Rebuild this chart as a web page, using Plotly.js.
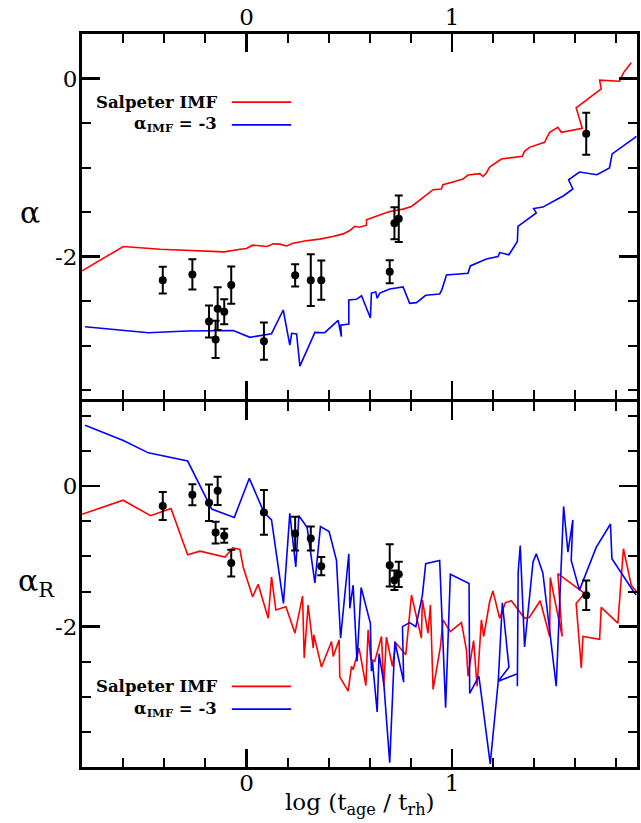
<!DOCTYPE html>
<html>
<head>
<meta charset="utf-8">
<script src="https://cdn.plot.ly/plotly-3.0.1.min.js"></script>
<style>html,body{margin:0;padding:0;background:#fff}#chart{width:641px;height:823px}</style>
</head>
<body>
<div id="chart"></div>
<script>
// ---- observed clusters (shared x) ----
const clusterLogAge = [-0.407,-0.263,-0.182,-0.150,-0.140,-0.108,-0.074,0.085,0.237,0.313,0.364,0.697,0.720,0.741,1.653];
const clusterAlpha = [-2.265,-2.20,-2.73,-2.93,-2.585,-2.62,-2.32,-2.95,-2.21,-2.265,-2.265,-2.17,-1.625,-1.575,-0.62];
const clusterAlphaErr = [0.15,0.17,0.18,0.21,0.24,0.14,0.21,0.21,0.125,0.29,0.22,0.13,0.18,0.26,0.235];
const clusterAlphaR = [-0.283,-0.123,-0.236,-0.66,-0.066,-0.707,-1.095,-0.373,-0.675,-0.745,-1.14,-1.127,-1.34,-1.255,-1.552];
const clusterAlphaRErr = [0.2,0.15,0.26,0.155,0.2,0.1,0.19,0.32,0.24,0.17,0.13,0.3,0.14,0.18,0.21];

// ---- model: alpha, Salpeter IMF ----
const salpX = [-0.80,-0.599,-0.42,-0.26,-0.108,-0.03,0.0,0.03,0.066,0.10,0.13,0.163,0.195,0.227,0.29,0.357,0.42,0.47,0.503,0.527,0.55,0.584,0.584,0.624,0.665,0.697,0.762,0.803,0.851,0.892,0.908,0.948,0.956,1.013,1.053,1.078,1.135,1.151,1.167,1.183,1.199,1.224,1.24,1.342,1.353,1.377,1.45,1.475,1.515,1.532,1.634,1.604,1.726,1.718,1.815,1.834,1.872];
const salpA = [-2.16,-1.887,-1.917,-1.93,-1.947,-1.917,-1.91,-1.872,-1.876,-1.887,-1.857,-1.86,-1.88,-1.85,-1.823,-1.804,-1.775,-1.745,-1.707,-1.66,-1.67,-1.647,-1.587,-1.557,-1.52,-1.493,-1.467,-1.437,-1.354,-1.287,-1.249,-1.241,-1.193,-1.156,-1.129,-1.084,-1.069,-1.10,-1.061,-0.994,-0.968,-0.93,-0.904,-0.874,-0.818,-0.773,-0.716,-0.604,-0.548,-0.604,-0.559,-0.33,-0.116,-0.019,-0.03,0.064,0.177];

// ---- model: alpha, IMF slope -3 ----
const steepX = [-0.785,-0.477,-0.29,-0.064,0.017,0.122,0.179,0.211,0.22,0.244,0.26,0.333,0.381,0.446,0.462,0.459,0.498,0.498,0.535,0.56,0.603,0.608,0.629,0.636,0.649,0.697,0.762,0.794,0.827,0.872,0.94,0.951,0.973,1.078,1.089,1.167,1.224,1.232,1.277,1.318,1.321,1.41,1.397,1.442,1.507,1.543,1.588,1.567,1.62,1.705,1.766,1.779,1.888,1.897];
const steepA = [-2.788,-2.855,-2.836,-2.83,-2.907,-2.866,-2.60,-2.994,-2.862,-2.87,-3.23,-2.851,-2.855,-2.716,-2.90,-2.77,-2.757,-2.487,-2.48,-2.44,-2.69,-2.41,-2.397,-2.468,-2.41,-2.364,-2.34,-2.525,-2.517,-2.435,-2.42,-2.371,-2.206,-2.187,-2.105,-2.026,-2.0,-1.955,-1.98,-1.83,-1.66,-1.51,-1.46,-1.444,-1.362,-1.317,-1.241,-1.137,-1.05,-1.08,-1.005,-0.847,-0.667,-0.65];

// ---- model: alpha_R, Salpeter IMF ----
const salpRX = [-0.80,-0.60,-0.466,-0.367,-0.286,-0.226,-0.104,-0.067,-0.032,-0.016,0.030,0.057,0.106,0.122,0.143,0.192,0.236,0.273,0.281,0.300,0.325,0.328,0.365,0.414,0.422,0.451,0.454,0.495,0.511,0.519,0.548,0.581,0.592,0.605,0.624,0.657,0.668,0.681,0.710,0.727,0.775,0.803,0.851,0.856,0.883,0.895,0.908,0.944,0.956,0.992,1.046,1.07,1.078,1.105,1.122,1.143,1.154,1.183,1.199,1.215,1.232,1.26,1.289,1.353,1.377,1.429,1.475,1.478,1.536,1.515,1.645,1.604,1.629,1.637,1.718,1.726,1.807,1.834,1.872,1.897];
const salpR = [-0.40,-0.20,-0.42,-0.317,-0.976,-0.925,-1.01,-0.877,-0.90,-1.151,-1.576,-1.396,-1.881,-1.293,-1.764,-1.717,-2.093,-1.566,-2.447,-1.693,-2.306,-2.117,-2.575,-2.212,-2.424,-2.188,-2.716,-2.919,-2.566,-2.612,-2.306,-2.84,-2.047,-2.47,-2.495,-2.141,-2.849,-2.15,-2.566,-2.235,-2.40,-1.552,-2.164,-1.62,-2.093,-1.693,-2.895,-2.283,-1.905,-2.071,-1.943,-2.33,-2.707,-2.2,-2.849,-1.905,-2.141,-1.646,-1.491,-1.68,-1.881,-1.66,-1.632,-1.881,-1.867,-1.632,-2.141,-1.301,-2.141,-1.245,-1.528,-1.67,-2.59,-2.14,-2.18,-1.726,-1.95,-0.891,-1.41,-1.50];

// ---- model: alpha_R, IMF slope -3 ----
const steepRX = [-0.785,-0.599,-0.477,-0.286,-0.169,-0.059,0.014,0.085,0.122,0.18,0.211,0.24,0.255,0.295,0.333,0.36,0.402,0.438,0.458,0.498,0.503,0.519,0.538,0.558,0.603,0.608,0.613,0.636,0.645,0.668,0.697,0.722,0.765,0.759,0.794,0.824,0.856,0.872,0.94,0.948,0.969,0.992,1.083,1.086,1.131,1.186,1.225,1.245,1.277,1.225,1.318,1.318,1.322,1.332,1.353,1.394,1.41,1.442,1.507,1.543,1.564,1.588,1.58,1.62,1.702,1.771,1.778,1.888,1.897];
const steepR = [0.867,0.65,0.475,0.358,-0.325,-0.444,0.113,-0.373,-0.48,-1.67,-0.387,-1.15,-0.42,-0.585,-1.377,-0.576,-0.646,-1.057,-2.164,-0.962,-1.74,-1.41,-2.495,-1.443,-1.952,-2.636,-2.495,-3.216,-2.386,-2.8,-3.94,-2.212,-2.792,-2.0,-1.943,-2.0,-1.552,-1.103,-1.057,-1.575,-3.154,-1.255,-1.386,-2.952,-2.707,-3.956,-2.778,-1.66,-2.58,-2.778,-2.673,-2.849,-1.222,-0.844,-2.291,-1.081,-0.962,-1.236,-2.849,-0.288,-0.939,-0.481,-1.057,-1.48,-0.868,-0.538,-1.033,-1.52,-1.55];

// ---- tick labels / tick positions ----
const yTickVals = [-2, 0];
const yTickText = ['-2', '0'];
const xTickVals = [0, 1];
const xTickText = ['0', '1'];
const xMinorVals = [-0.6,-0.4,-0.2,0.2,0.4,0.6,0.8,1.2,1.4,1.6,1.8];
const yTopMinorVals = [-3.5,-3,-2.5,-1.5,-1,-0.5];
const yBotMinorVals = [-3.5,-3,-2.5,-1.5,-1,-0.5,0.5,1];

const X_RANGE = [-0.8, 1.9];
const Y_TOP_RANGE = [-3.6, 0.5];
const Y_BOT_RANGE = [-4, 1.2];
const TOP_DOM = [0.502, 1];
const BOT_DOM = [0, 0.498];

const FONT = 'DejaVu Serif, Liberation Serif, serif';
const RED = '#ff0000', BLUE = '#0000ff';

const lineTrace = (x, y, color, xa, ya) => ({
  x, y, xaxis: xa, yaxis: ya, type: 'scatter', mode: 'lines',
  line: {color, width: 1.6}, hoverinfo: 'skip', showlegend: false
});
const dataTrace = (y, err, xa, ya) => ({
  x: clusterLogAge, y, xaxis: xa, yaxis: ya, type: 'scatter', mode: 'markers',
  marker: {color: 'black', size: 8},
  error_y: {type: 'data', array: err, visible: true, color: 'black', thickness: 2, width: 4},
  showlegend: false
});
// invisible helper traces so the minor-tick axes get their own (transparent) subplots
const ghost = (xa, ya) => ({x: [null], y: [null], xaxis: xa, yaxis: ya, type: 'scatter', mode: 'markers', showlegend: false, hoverinfo: 'skip'});

const traces = [
  lineTrace(salpX, salpA, RED, 'x2', 'y2'),
  lineTrace(steepX, steepA, BLUE, 'x2', 'y2'),
  dataTrace(clusterAlpha, clusterAlphaErr, 'x2', 'y2'),
  lineTrace(salpRX, salpR, RED, 'x', 'y'),
  lineTrace(steepRX, steepR, BLUE, 'x', 'y'),
  dataTrace(clusterAlphaR, clusterAlphaRErr, 'x', 'y'),
  ghost('x3', 'y3'),
  ghost('x4', 'y4')
];

const axCommon = {
  showline: true, linecolor: 'black', linewidth: 3, mirror: 'ticks',
  ticks: 'inside', ticklen: 18, tickwidth: 2.5, tickcolor: 'black',
  showgrid: false, zeroline: false, tickmode: 'array',
  tickfont: {family: FONT, size: 23, color: 'black'}
};
const minorAx = {
  showline: false, mirror: 'ticks', ticks: 'inside', ticklen: 9, tickwidth: 2, tickcolor: 'black',
  showgrid: false, zeroline: false, tickmode: 'array', showticklabels: false
};

const legendAnn = (y, text) => ({
  xref: 'paper', yref: 'paper', x: 0.247, y, xanchor: 'right', yanchor: 'middle',
  text, showarrow: false, font: {family: FONT, size: 16.5, color: 'black'}
});
const legendLine = (y, color) => ({
  type: 'line', xref: 'paper', yref: 'paper', x0: 0.270, x1: 0.377, y0: y, y1: y,
  line: {color, width: 1.6}
});

const layout = {
  width: 641, height: 823,
  margin: {l: 82, r: 4, t: 34, b: 56},
  paper_bgcolor: 'white', plot_bgcolor: 'rgba(0,0,0,0)',
  showlegend: false,
  xaxis: Object.assign({}, axCommon, {domain: [0, 1], anchor: 'y', range: X_RANGE, tickvals: xTickVals, ticktext: xTickText, ticklabelstandoff: -7}),
  yaxis: Object.assign({}, axCommon, {domain: BOT_DOM, anchor: 'x', range: Y_BOT_RANGE, tickvals: yTickVals, ticktext: yTickText, ticklabelstandoff: -3}),
  xaxis2: Object.assign({}, axCommon, {domain: [0, 1], anchor: 'y2', side: 'top', range: X_RANGE, tickvals: xTickVals, ticktext: xTickText, ticklabelstandoff: -3}),
  yaxis2: Object.assign({}, axCommon, {domain: TOP_DOM, anchor: 'x2', range: Y_TOP_RANGE, tickvals: yTickVals, ticktext: yTickText, ticklabelstandoff: -3}),
  // minor tick axes (own transparent subplots on the same domains)
  xaxis3: Object.assign({}, minorAx, {domain: [0, 1], anchor: 'y3', range: X_RANGE, tickvals: xMinorVals}),
  yaxis3: Object.assign({}, minorAx, {domain: BOT_DOM, anchor: 'x3', range: Y_BOT_RANGE, tickvals: yBotMinorVals}),
  xaxis4: Object.assign({}, minorAx, {domain: [0, 1], anchor: 'y4', side: 'top', range: X_RANGE, tickvals: xMinorVals}),
  yaxis4: Object.assign({}, minorAx, {domain: TOP_DOM, anchor: 'x4', range: Y_TOP_RANGE, tickvals: yTopMinorVals}),
  annotations: [
    legendAnn(0.907, '<b>Salpeter IMF</b>'),
    legendAnn(0.876, '<b>α<sub>IMF</sub> = -3</b>'),
    legendAnn(0.110, '<b>Salpeter IMF</b>'),
    legendAnn(0.079, '<b>α<sub>IMF</sub> = -3</b>'),
    {xref: 'paper', yref: 'paper', x: -0.094, y: 0.756, xanchor: 'center', yanchor: 'middle', showarrow: false,
     text: 'α', font: {family: FONT, size: 30, color: 'black'}},
    {xref: 'paper', yref: 'paper', x: -0.082, y: 0.252, xanchor: 'center', yanchor: 'middle', showarrow: false,
     text: 'α<sub>R</sub>', font: {family: FONT, size: 30, color: 'black'}},
    {xref: 'paper', yref: 'paper', x: 0.5, y: -0.05, xanchor: 'center', yanchor: 'middle', showarrow: false,
     text: 'log (t<sub>age</sub> / t<sub>rh</sub>)', font: {family: FONT, size: 23, color: 'black'}}
  ],
  shapes: [
    legendLine(0.907, RED), legendLine(0.876, BLUE),
    legendLine(0.110, RED), legendLine(0.079, BLUE)
  ]
};

Plotly.newPlot('chart', traces, layout, {displayModeBar: false, staticPlot: true});
</script>
</body>
</html>
